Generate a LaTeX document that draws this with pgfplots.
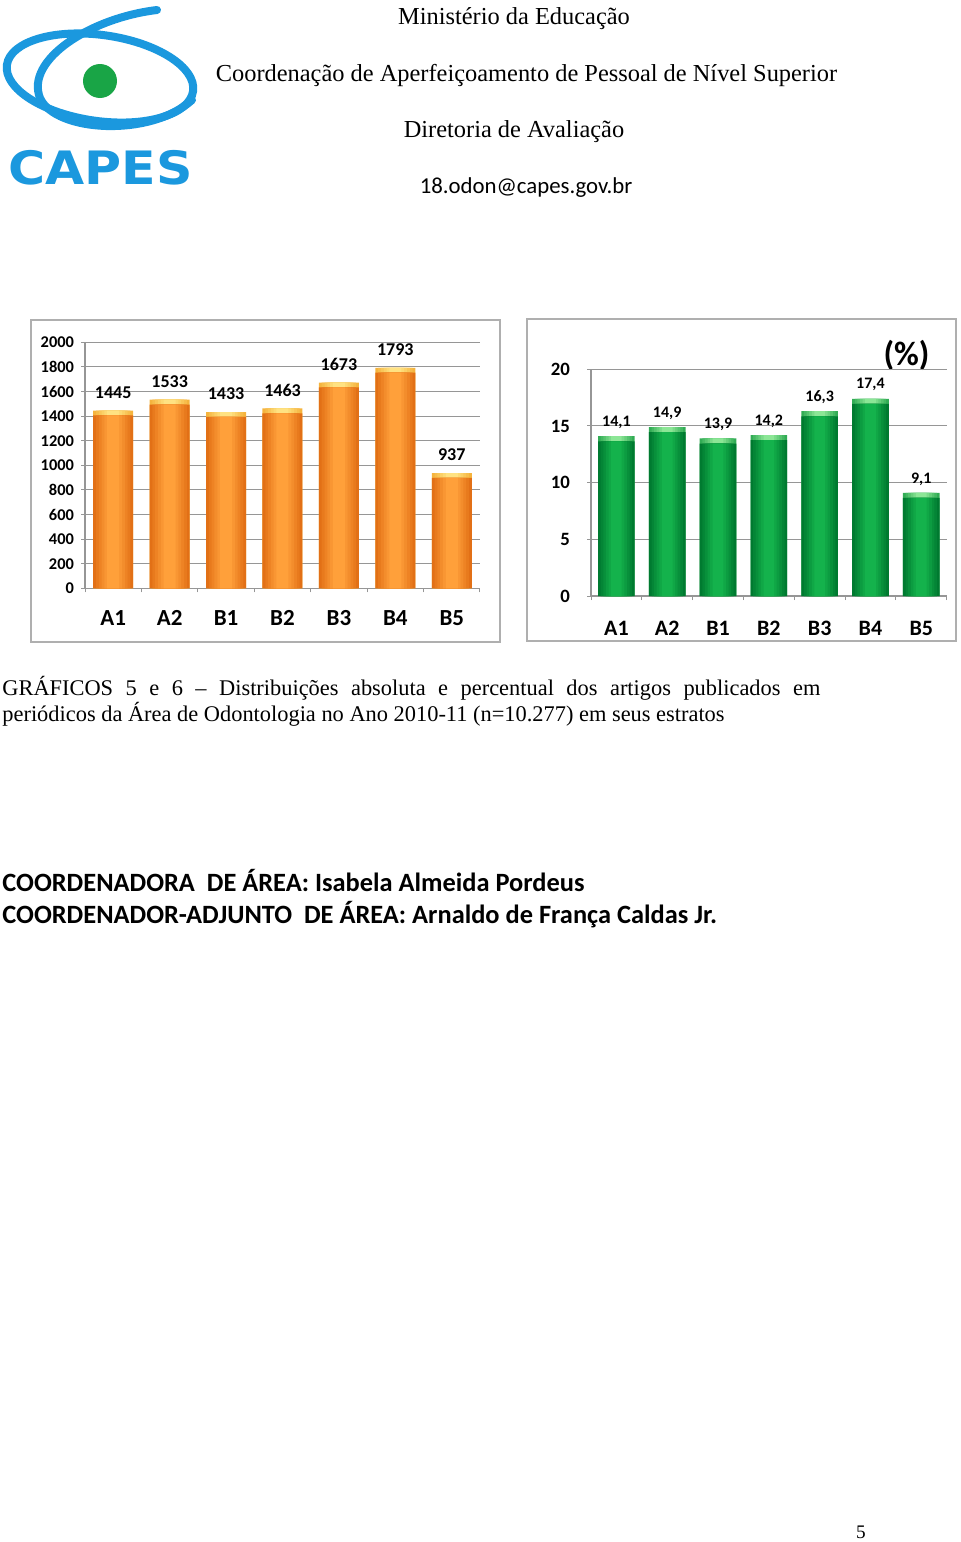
\documentclass[border=0pt]{standalone}
\usepackage{fontspec}
\setmainfont{Liberation Serif}
\newfontfamily\carlito{Carlito}
\newfontfamily\dvs{DejaVu Sans}
\usepackage{pgfplots}
\pgfplotsset{compat=1.18}
\usepackage{pgfplotstable}

\definecolor{capesblue}{RGB}{27,152,222}
\definecolor{capesgreen}{RGB}{25,165,70}
\definecolor{orEdge}{RGB}{226,112,22}
\definecolor{orMid}{RGB}{255,160,58}
\definecolor{orCapE}{RGB}{245,180,62}
\definecolor{orCapM}{RGB}{255,226,130}
\definecolor{grEdge}{RGB}{0,122,48}
\definecolor{grMid}{RGB}{20,178,76}
\definecolor{grCapE}{RGB}{50,172,85}
\definecolor{grCapM}{RGB}{140,230,150}
\definecolor{gridc}{RGB}{150,150,150}
\definecolor{framec}{RGB}{175,175,175}

\pgfplotstableread{
x v
0 1445
1 1533
2 1433
3 1463
4 1673
5 1793
6 937
}\absdata
\pgfplotstableread{
x p
0 14.1
1 14.9
2 13.9
3 14.2
4 16.3
5 17.4
6 9.1
}\pctdata

\pgfplotsset{
 capesbars/.style={
   scale only axis, anchor=south west,
   xmin=-0.5, xmax=6.5, ymin=0,
   axis x line*=bottom, axis y line*=left,
   axis line style={-, gridc, line width=0.6pt},
   ymajorgrids, grid style={gridc, line width=0.5pt},
   tick align=outside, major tick length=2pt,
   tick style={gridc, line width=0.5pt},
   xtick={-0.5,0.5,...,6.5}, xticklabels={,,,,,,,},
   extra x ticks={0,1,2,3,4,5,6},
   extra x tick labels={A1,A2,B1,B2,B3,B4,B5},
   /pgf/number format/assume math mode=true,
   /pgf/number format/1000 sep={},
   clip=false,
 }
}

\begin{document}
\begin{tikzpicture}
\useasboundingbox (0pt,0pt) rectangle (480pt,-771pt);
\begin{scope}[x=0.5pt,y=-0.5pt]
 % logo
 \draw[capesblue, line width=4pt, rotate around={-8:(100,78)}] (100,78) ellipse [x radius=94, y radius=43];
 \draw[capesblue, line width=4pt, line cap=round] (157,10) .. controls (90,18) and (25,60) .. (40,98) .. controls (55,132) and (150,138) .. (192,100);
 \fill[capesgreen] (100,81) circle [radius=17];
 \node[anchor=base west, inner sep=0, text=capesblue, font=\dvs\bfseries\fontsize{23}{28}\selectfont] at (8,184) {\scalebox{1.1}[1]{CAPES}};
 % header
 \node[anchor=base, font=\fontsize{12.2}{14}\selectfont] at (514,25) {Ministério da Educação};
 \node[anchor=base, font=\fontsize{12.2}{14}\selectfont] at (526.5,81) {Coordenação de Aperfeiçoamento de Pessoal de Nível Superior};
 \node[anchor=base, font=\fontsize{12.2}{14}\selectfont] at (514,137) {Diretoria de Avaliação};
 \node[anchor=base, font=\carlito\fontsize{11.4}{14}\selectfont] at (526,193) {18.odon@capes.gov.br};
 % frames
 \draw[framec, line width=0.8pt] (31,320) rectangle (500,642);
 \draw[framec, line width=0.8pt] (527,319) rectangle (956,641);
 % caption
 \node[anchor=base west, inner sep=0, font=\fontsize{11.2}{13}\selectfont] at (2,695) {\makebox[409pt][s]{GRÁFICOS 5 e 6 – Distribuições absoluta e percentual dos artigos publicados em}};
 \node[anchor=base west, inner sep=0, font=\fontsize{11.2}{13}\selectfont] at (2,721) {periódicos da Área de Odontologia no Ano 2010-11 (n=10.277) em seus estratos};
 % coordinators
 \node[anchor=base west, inner sep=0, font=\carlito\bfseries\fontsize{13.2}{16}\selectfont] at (2,891) {COORDENADORA\ \ DE ÁREA: Isabela Almeida Pordeus};
 \node[anchor=base west, inner sep=0, font=\carlito\bfseries\fontsize{13.2}{16}\selectfont] at (2,923) {COORDENADOR-ADJUNTO\ \ DE ÁREA: Arnaldo de França Caldas Jr.};
 % page number
 \node[anchor=base, font=\fontsize{9.6}{11}\selectfont] at (861,1538) {5};
 % percent mark
 \node[font=\carlito\bfseries\fontsize{17}{20}\selectfont] at (906.5,355) {(\%)};
\end{scope}

% chart 1: absolute
\begin{axis}[capesbars, at={(42.5pt,-294.15pt)}, width=197.5pt, height=123pt,
  ymax=2000, ytick={0,200,...,2000},
  yticklabel style={font=\carlito\bfseries\fontsize{8.2}{9}\selectfont},
  extra x tick style={major tick length=0pt, xticklabel style={font=\carlito\bfseries\fontsize{11.5}{13}\selectfont, anchor=center, yshift=-15pt}}]
\pgfplotsinvokeforeach{0,20,40,60,80,100}{
  \addplot[ybar, bar shift=0pt, draw=none, fill=orCapM!#1!orCapE, bar width={20pt-0.14pt*#1}]
    table[x=x,y=v]{\absdata};
}
\pgfplotsinvokeforeach{0,20,40,60,80,100}{
  \addplot[ybar, bar shift=0pt, draw=none, fill=orMid!#1!orEdge, bar width={20pt-0.14pt*#1}]
    table[x=x, y expr=\thisrow{v}-40]{\absdata};
}
\addplot[ybar, bar shift=0pt, bar width=20pt, draw=none, fill=none,
  nodes near coords, every node near coord/.append style={font=\carlito\bfseries\fontsize{9}{10}\selectfont, anchor=center, yshift=9pt, text=black}]
  table[x=x,y=v]{\absdata};
\end{axis}

% chart 2: percent
\begin{axis}[capesbars, at={(295.5pt,-298pt)}, width=177.85pt, height=113.35pt,
  ymax=20, ytick={0,5,...,20},
  yticklabel style={font=\carlito\bfseries\fontsize{9.4}{10}\selectfont, xshift=-5pt},
  extra x tick style={major tick length=0pt, xticklabel style={font=\carlito\bfseries\fontsize{11}{13}\selectfont, anchor=center, yshift=-16pt}}]
\pgfplotsinvokeforeach{0,20,40,60,80,100}{
  \addplot[ybar, bar shift=0pt, draw=none, fill=grCapM!#1!grCapE, bar width={18.3pt-0.13pt*#1}]
    table[x=x,y=p]{\pctdata};
}
\pgfplotsinvokeforeach{0,20,40,60,80,100}{
  \addplot[ybar, bar shift=0pt, draw=none, fill=grMid!#1!grEdge, bar width={18.3pt-0.13pt*#1}]
    table[x=x, y expr=\thisrow{p}-0.45]{\pctdata};
}
\addplot[ybar, bar shift=0pt, bar width=18.3pt, draw=none, fill=none,
  nodes near coords={\pgfmathprintnumber[fixed, fixed zerofill, precision=1, use comma]{\pgfplotspointmeta}},
  every node near coord/.append style={font=\carlito\bfseries\fontsize{8}{9}\selectfont, anchor=center, yshift=7pt, text=black}]
  table[x=x,y=p]{\pctdata};
\end{axis}
\end{tikzpicture}
\end{document}
